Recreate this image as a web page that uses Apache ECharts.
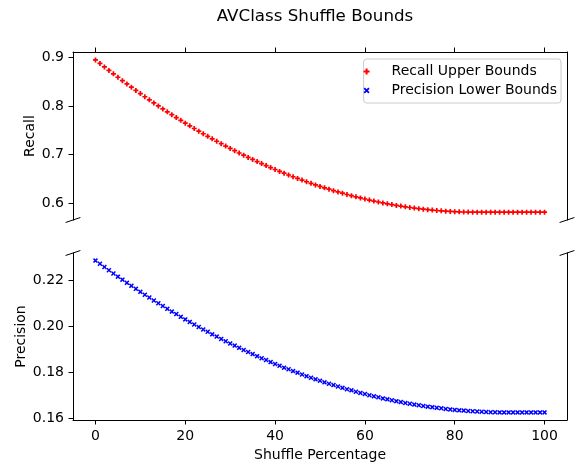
<!DOCTYPE html>
<html>
<head>
<meta charset="utf-8">
<script src="https://cdn.jsdelivr.net/npm/echarts@6/dist/echarts.min.js"></script>
<style>
html,body{margin:0;padding:0;background:#fff;}
#c{width:575px;height:466px;}
</style>
</head>
<body>
<div id="c"></div>
<script>
const shufflePct = [0,1,2,3,4,5,6,7,8,9,10,11,12,13,14,15,16,17,18,19,20,21,22,23,24,25,26,27,28,29,30,31,32,33,34,35,36,37,38,39,40,41,42,43,44,45,46,47,48,49,50,51,52,53,54,55,56,57,58,59,60,61,62,63,64,65,66,67,68,69,70,71,72,73,74,75,76,77,78,79,80,81,82,83,84,85,86,87,88,89,90,91,92,93,94,95,96,97,98,99,100];
const recallUpper = [0.8948,0.8875,0.8803,0.8731,0.8661,0.8591,0.8522,0.8454,0.8387,0.8321,0.8256,0.8191,0.8127,0.8065,0.8003,0.7942,0.7881,0.7822,0.7764,0.7706,0.7649,0.7594,0.7539,0.7484,0.7431,0.7379,0.7327,0.7277,0.7227,0.7178,0.7130,0.7083,0.7036,0.6991,0.6946,0.6903,0.6860,0.6818,0.6777,0.6736,0.6697,0.6658,0.6621,0.6584,0.6548,0.6513,0.6479,0.6445,0.6413,0.6381,0.6350,0.6321,0.6292,0.6263,0.6236,0.6210,0.6184,0.6159,0.6136,0.6113,0.6091,0.6069,0.6049,0.6030,0.6011,0.5993,0.5976,0.5960,0.5945,0.5931,0.5917,0.5905,0.5893,0.5882,0.5872,0.5863,0.5855,0.5848,0.5841,0.5836,0.5831,0.5827,0.5824,0.5822,0.5820,0.5820,0.5820,0.5820,0.5820,0.5820,0.5820,0.5820,0.5820,0.5820,0.5820,0.5820,0.5820,0.5820,0.5820,0.5820,0.5820];
const precisionLower = [0.2287,0.2273,0.2259,0.2245,0.2231,0.2217,0.2204,0.2190,0.2177,0.2164,0.2151,0.2138,0.2126,0.2113,0.2101,0.2089,0.2077,0.2065,0.2054,0.2042,0.2031,0.2020,0.2009,0.1998,0.1987,0.1977,0.1966,0.1956,0.1946,0.1936,0.1926,0.1917,0.1907,0.1898,0.1889,0.1880,0.1871,0.1862,0.1854,0.1845,0.1837,0.1829,0.1821,0.1814,0.1806,0.1799,0.1791,0.1784,0.1777,0.1770,0.1764,0.1757,0.1751,0.1745,0.1739,0.1733,0.1727,0.1722,0.1716,0.1711,0.1706,0.1701,0.1696,0.1692,0.1687,0.1683,0.1679,0.1675,0.1671,0.1667,0.1664,0.1660,0.1657,0.1654,0.1651,0.1649,0.1646,0.1644,0.1641,0.1639,0.1637,0.1635,0.1634,0.1632,0.1631,0.1630,0.1629,0.1628,0.1627,0.1627,0.1626,0.1626,0.1626,0.1626,0.1626,0.1626,0.1626,0.1626,0.1626,0.1626,0.1626];
const xTicks = [0,20,40,60,80,100];
const recallTicks = [0.6,0.7,0.8,0.9];
const precisionTicks = [0.16,0.18,0.20,0.22];
const seriesNames = ['Recall Upper Bounds','Precision Lower Bounds'];

const FONT = 'DejaVu Sans';
const FS = 14;
const L = 73, R = 567, T1 = 52, B1 = 220, T2 = 253, B2 = 420;
const PLUS = 'path://M3.3,0 H6.7 V3.3 H10 V6.7 H6.7 V10 H3.3 V6.7 H0 V3.3 H3.3 Z';
const CROSS = 'path://M0,2.12 L2.12,0 L5,2.88 L7.88,0 L10,2.12 L7.12,5 L10,7.88 L7.88,10 L5,7.12 L2.12,10 L0,7.88 L2.88,5 Z';

const chart = echarts.init(document.getElementById('c'), null, {renderer:'canvas'});
const axisLine = {show:true, onZero:false, lineStyle:{color:'#000', width:1}};
const tickStyle = (vals) => ({show:true, inside:false, length:4.5, lineStyle:{color:'#000', width:1}, customValues: vals});
const labelStyle = {color:'#000', fontFamily:FONT, fontSize:FS};
const nameStyle = {fontFamily:FONT, fontSize:FS, color:'#000'};

const breakMarks = [[L,B1],[R,B1],[L,T2],[R,T2]].map(([x,y]) => ({
  type:'line', silent:true,
  shape:{x1:x-7.4, y1:y+2.5, x2:x+7.4, y2:y-2.5},
  style:{stroke:'#000', lineWidth:1}
}));

chart.setOption({
  backgroundColor:'#fff',
  animation:false,
  title:{text:'AVClass Shuffle Bounds', left:310, top:3, textAlign:'center',
    textStyle:{fontFamily:FONT, fontSize:16.7, fontWeight:'normal', color:'#000'}},
  legend:{
    data: seriesNames,
    orient:'vertical', right:14, top:59,
    itemWidth:40, itemHeight:6, itemGap:4,
    padding:[5,4,5,0],
    borderColor:'#cccccc', borderWidth:1, borderRadius:3,
    backgroundColor:'rgba(255,255,255,0.8)',
    textStyle:{fontFamily:FONT, fontSize:FS, color:'#000', lineHeight:15}
  },
  grid:[
    {left:L, top:T1, width:R-L, height:B1-T1},
    {left:L, top:T2, width:R-L, height:B2-T2}
  ],
  xAxis:[
    {gridIndex:0, type:'value', position:'top', min:-5, max:105,
      axisLine:axisLine, axisTick:tickStyle(xTicks),
      axisLabel:{show:false}, splitLine:{show:false}},
    {gridIndex:1, type:'value', position:'bottom', min:-5, max:105,
      name:'Shuffle Percentage', nameLocation:'middle', nameGap:28, nameMoveOverlap:false,
      nameTextStyle:nameStyle,
      axisLine:axisLine, axisTick:tickStyle(xTicks),
      axisLabel:Object.assign({margin:9, customValues:xTicks}, labelStyle),
      splitLine:{show:false}}
  ],
  yAxis:[
    {gridIndex:0, type:'value', position:'left', min:0.566, max:0.911,
      name:'Recall', nameLocation:'middle', nameGap:36, nameMoveOverlap:false,
      nameTextStyle:nameStyle,
      axisLine:axisLine, axisTick:tickStyle(recallTicks),
      axisLabel:Object.assign({margin:9, customValues:recallTicks, formatter:v=>v.toFixed(1)}, labelStyle),
      splitLine:{show:false}},
    {gridIndex:0, type:'value', position:'right', min:0.566, max:0.911,
      axisLine:axisLine, axisTick:{show:false}, axisLabel:{show:false}, splitLine:{show:false}},
    {gridIndex:1, type:'value', position:'left', min:0.1593, max:0.232,
      name:'Precision', nameLocation:'middle', nameGap:45, nameMoveOverlap:false,
      nameTextStyle:nameStyle,
      axisLine:axisLine, axisTick:tickStyle(precisionTicks),
      axisLabel:Object.assign({margin:9, customValues:precisionTicks, formatter:v=>v.toFixed(2)}, labelStyle),
      splitLine:{show:false}},
    {gridIndex:1, type:'value', position:'right', min:0.1593, max:0.232,
      axisLine:axisLine, axisTick:{show:false}, axisLabel:{show:false}, splitLine:{show:false}}
  ],
  series:[
    {name:seriesNames[0], type:'scatter', xAxisIndex:0, yAxisIndex:0,
      symbol:PLUS, symbolSize:5, symbolKeepAspect:true,
      itemStyle:{color:'#ff0000', opacity:1},
      data: shufflePct.map((x,i)=>[x, recallUpper[i]])},
    {name:seriesNames[1], type:'scatter', xAxisIndex:1, yAxisIndex:2,
      symbol:CROSS, symbolSize:5, symbolKeepAspect:true,
      itemStyle:{color:'#0000ff', opacity:1},
      data: shufflePct.map((x,i)=>[x, precisionLower[i]])}
  ],
  graphic: breakMarks
});
</script>
</body>
</html>
